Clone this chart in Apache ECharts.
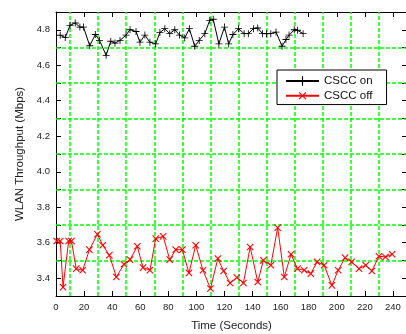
<!DOCTYPE html>
<html>
<head>
<meta charset="utf-8">
<script src="https://cdn.jsdelivr.net/npm/echarts@6/dist/echarts.min.js"></script>
<style>
  html, body { margin: 0; padding: 0; background: #fff; }
  #chart { width: 406px; height: 334px; }
</style>
</head>
<body>
<div id="chart"></div>
<script>
// CSCC on
let onTimes = [3, 6.6, 10, 13.7, 17, 19.6, 24, 28, 31, 35.7, 39, 42, 45.6, 49.9, 52.7, 57, 59.8, 63.3, 66.9, 71,
    74, 77.5, 81, 84.6, 88, 91.7, 95, 98.8, 102, 106, 109.5, 112, 116, 120, 123, 126, 130, 134, 137, 140.6,
    143.7, 147, 150, 153, 156.7, 161, 163.8, 166, 169.7, 172, 176];
let onValues = [4.769, 4.756, 4.825, 4.838, 4.815, 4.815, 4.71, 4.773, 4.74, 4.656, 4.735, 4.725, 4.74, 4.77, 4.80, 4.79, 4.73, 4.77, 4.73, 4.72,
    4.784, 4.806, 4.778, 4.80, 4.77, 4.754, 4.806, 4.707, 4.74, 4.778, 4.853, 4.859, 4.72, 4.815, 4.72, 4.773, 4.806, 4.778, 4.778, 4.806,
    4.81, 4.778, 4.778, 4.778, 4.787, 4.707, 4.745, 4.77, 4.80, 4.797, 4.778];

// CSCC off
let offTimes = [0.5, 3, 5, 9, 11, 14.4, 19, 23.8, 29.5, 33.3, 38, 43, 48.4, 52.7, 57.9, 62, 66.9, 71, 76.3, 81,
    85.3, 90, 94.7, 99.5, 104.7, 110, 115.3, 119.4, 124, 128.8, 133.5, 138.3, 143.7, 147.7, 153, 157.9, 162.6, 167.4, 172, 176.8,
    181.5, 186, 191, 196.5, 201, 205.9, 210.6, 215.8, 220.6, 225, 230, 234.7, 239.4];
let offValues = [3.61, 3.61, 3.35, 3.61, 3.61, 3.454, 3.445, 3.561, 3.648, 3.586, 3.53, 3.407, 3.479, 3.505, 3.58, 3.46, 3.445, 3.623, 3.636, 3.505,
    3.561, 3.561, 3.43, 3.586, 3.445, 3.342, 3.511, 3.441, 3.373, 3.404, 3.373, 3.576, 3.379, 3.501, 3.473, 3.685, 3.407, 3.535, 3.454, 3.445,
    3.426, 3.492, 3.473, 3.36, 3.445, 3.516, 3.492, 3.454, 3.473, 3.441, 3.524, 3.52, 3.535];

let seriesNames = ['CSCC on', 'CSCC off'];

// green grid lines sit between the labelled ticks
let gridTimes = [10, 30, 50, 70, 90, 110, 130, 150, 170, 190, 210, 230];
let gridValues = [3.5, 3.7, 3.9, 4.1, 4.3, 4.5, 4.7];

let myChart = echarts.init(document.getElementById('chart'));

function pairs(xs, ys) {
    return xs.map(function (x, i) { return [x, ys[i]]; });
}

let plusPath = 'path://M4.4,0H5.6V4.4H10V5.6H5.6V10H4.4V5.6H0V4.4H4.4Z';
let font = 'Liberation Sans';
let green = '#00ff00';

let tickCommon = { show: true, inside: true, length: 5, lineStyle: { color: '#000', width: 1 } };
let lineCommon = { show: true, onZero: false, lineStyle: { color: '#000', width: 1 } };

let gridLines = gridTimes.map(function (t) { return { xAxis: t }; })
    .concat(gridValues.map(function (v) { return { yAxis: v }; }));

option = {
    animation: false,
    grid: { left: 56, right: -1, top: 12, bottom: 38, containLabel: false, outerBoundsMode: 'none' },
    legend: {
        orient: 'vertical',
        left: 277,
        top: 70,
        zlevel: 1,
        z: 20,
        padding: [5, 14, 2, 8],
        itemGap: 2,
        itemWidth: 33,
        itemHeight: 12,
        backgroundColor: '#fff',
        borderColor: '#000',
        borderWidth: 1,
        borderRadius: 0,
        textStyle: { fontFamily: font, fontSize: 11.5, color: '#111' },
        data: seriesNames
    },
    xAxis: [
        {
            type: 'value', position: 'bottom', min: 0, max: 250, interval: 20,
            name: 'Time (Seconds)', nameLocation: 'middle', nameGap: 24,
            nameTextStyle: { fontFamily: font, fontSize: 11.5, color: '#222' },
            axisLine: lineCommon, axisTick: tickCommon,
            axisLabel: {
                fontFamily: font, fontSize: 9.5, color: '#222', margin: 6,
                formatter: function (v) { return v <= 240 ? String(v) : ''; }
            },
            splitLine: { show: false }
        },
        {
            type: 'value', position: 'top', min: 0, max: 250, interval: 20,
            axisLine: lineCommon, axisTick: tickCommon,
            axisLabel: { show: false }, splitLine: { show: false }
        }
    ],
    yAxis: [
        {
            type: 'value', position: 'left', min: 3.3, max: 4.9, interval: 0.1,
            name: 'WLAN Throughput (Mbps)', nameLocation: 'middle', nameGap: 26,
            nameTextStyle: { fontFamily: font, fontSize: 11.5, color: '#222' },
            axisLine: lineCommon, axisTick: tickCommon,
            axisLabel: {
                fontFamily: font, fontSize: 9.5, color: '#222', margin: 6,
                formatter: function (v) {
                    let k = Math.round(v * 10);
                    return (k % 2 === 0) ? v.toFixed(1) : '';
                }
            },
            splitLine: { show: false }
        },
        {
            type: 'value', position: 'right', min: 3.3, max: 4.9, interval: 0.1,
            axisLine: lineCommon, axisTick: tickCommon,
            axisLabel: { show: false }, splitLine: { show: false }
        }
    ],
    series: [
        {
            name: 'grid',
            type: 'line',
            data: [],
            z: 1,
            markLine: {
                silent: true,
                symbol: 'none',
                label: { show: false },
                lineStyle: { color: green, width: 1.5, type: [4, 2] },
                data: gridLines
            }
        },
        {
            name: seriesNames[0],
            type: 'line',
            xAxisIndex: 0, yAxisIndex: 0,
            data: pairs(onTimes, onValues),
            symbol: plusPath,
            symbolSize: 7,
            showAllSymbol: true,
            lineStyle: { color: '#000', width: 1 },
            itemStyle: { color: '#000' },
            z: 5
        },
        {
            name: seriesNames[1],
            type: 'line',
            xAxisIndex: 0, yAxisIndex: 0,
            data: pairs(offTimes, offValues),
            symbol: plusPath,
            symbolRotate: 45,
            symbolSize: 9,
            showAllSymbol: true,
            lineStyle: { color: '#ff0000', width: 1 },
            itemStyle: { color: '#ff0000' },
            z: 5
        }
    ]
};
myChart.setOption(option);
</script>
</body>
</html>
